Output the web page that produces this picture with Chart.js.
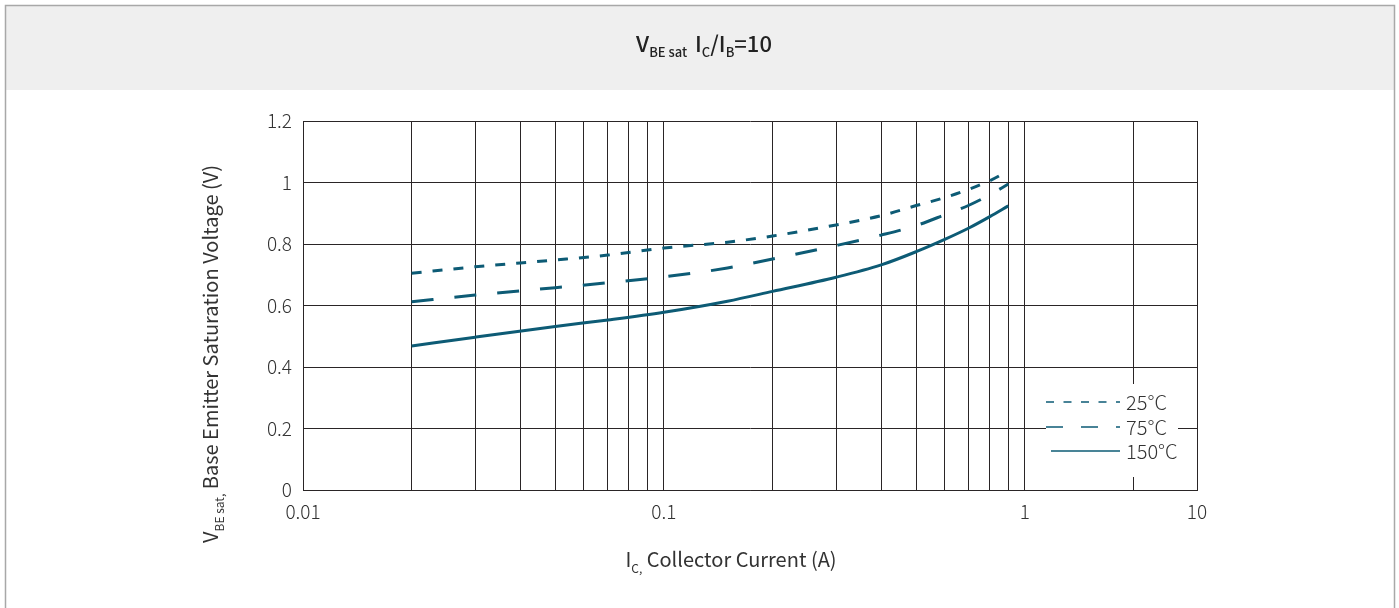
<!DOCTYPE html>
<html>
<head>
<meta charset="utf-8">
<script src="https://cdn.jsdelivr.net/npm/chart.js@4.4.1/dist/chart.umd.min.js"></script>
<style>
  html, body { margin: 0; padding: 0; background: #fff; }
  #wrap { position: absolute; left: 0; top: 0; width: 1399px; height: 608px; }
</style>
</head>
<body>
<div id="wrap"><canvas id="chart" width="1399" height="608"></canvas></div>
<script>
// Corrente de coletor (A) onde as curvas foram lidas
const currents = [0.02, 0.03, 0.05, 0.07, 0.1, 0.15, 0.2, 0.3, 0.4, 0.5, 0.6, 0.7, 0.8, 0.9];
// VBE sat (V) por temperatura
const vbe25 = [0.705, 0.726, 0.748, 0.764, 0.787, 0.806, 0.826, 0.862, 0.892, 0.925, 0.951, 0.978, 1.006, 1.038];
const vbe75 = [0.612, 0.634, 0.658, 0.674, 0.693, 0.722, 0.751, 0.795, 0.829, 0.860, 0.895, 0.926, 0.960, 0.995];
const vbe150 = [0.468, 0.497, 0.532, 0.553, 0.578, 0.614, 0.646, 0.692, 0.732, 0.775, 0.815, 0.852, 0.889, 0.924];
const seriesNames = ['25°C', '75°C', '150°C'];

// Grelha vertical e etiquetas do eixo X (o eixo original acaba em "10")
const xGridTicks = [0.01, 0.02, 0.03, 0.04, 0.05, 0.06, 0.07, 0.08, 0.09,
                    0.1, 0.2, 0.3, 0.4, 0.5, 0.6, 0.7, 0.8, 0.9, 1, 2, 3];
const xLabelTicks = [0.01, 0.1, 1, 3];
const xLabelText = ['0.01', '0.1', '1', '10'];
const yTickLabels = ['0', '0.2', '0.4', '0.6', '0.8', '1', '1.2'];

const FONT = "'Noto Sans CJK SC', 'Noto Sans', sans-serif";
const LINE = '#0d5b75';
const GRID = '#2a2526';
const TEXT = '#333333';

// Texto com índices (subscritos)
function drawRich(ctx, parts, x, y, align, size, weight, subSize, subShift) {
    const widths = parts.map(p => {
        ctx.font = `${weight} ${p.sub ? subSize : size}px ${FONT}`;
        return ctx.measureText(p.t).width;
    });
    const total = widths.reduce((a, b) => a + b, 0);
    let cx = align === 'center' ? x - total / 2 : x;
    ctx.textAlign = 'left';
    ctx.textBaseline = 'alphabetic';
    parts.forEach((p, i) => {
        ctx.font = `${weight} ${p.sub ? subSize : size}px ${FONT}`;
        ctx.fillText(p.t, cx, p.sub ? y + subShift : y);
        cx += widths[i];
    });
}

const framePlugin = {
    id: 'frame',
    beforeDraw(chart) {
        const ctx = chart.ctx;
        ctx.save();
        ctx.fillStyle = '#ffffff';
        ctx.fillRect(0, 0, chart.width, chart.height);
        ctx.fillStyle = '#efefef';
        ctx.fillRect(6, 6, 1388, 84);
        ctx.strokeStyle = '#a8a8a8';
        ctx.lineWidth = 1.5;
        ctx.beginPath();
        ctx.moveTo(5.5, 610); ctx.lineTo(5.5, 5.5); ctx.lineTo(1394.5, 5.5); ctx.lineTo(1394.5, 610);
        ctx.stroke();
        ctx.restore();
    },
    afterDraw(chart) {
        const ctx = chart.ctx;
        ctx.save();
        ctx.fillStyle = '#222';
        // titulo
        drawRich(ctx, [{t: 'V'}, {t: 'BE sat ', sub: true}, {t: ' I'}, {t: 'C', sub: true},
                       {t: '/I'}, {t: 'B', sub: true}, {t: '=10'}],
                 704, 52, 'center', 22, 500, 13, 5);
        ctx.fillStyle = TEXT;
        // titulo eixo X
        drawRich(ctx, [{t: 'I'}, {t: 'C,', sub: true}, {t: ' Collector Current (A)'}],
                 731, 567, 'center', 20, 400, 12, 6);
        // titulo eixo Y (rodado)
        ctx.save();
        ctx.translate(218, 354);
        ctx.rotate(-Math.PI / 2);
        drawRich(ctx, [{t: 'V'}, {t: 'BE sat,', sub: true}, {t: ' Base Emitter Saturation Voltage (V)'}],
                 0, 0, 'center', 20, 400, 12, 6);
        ctx.restore();

        // legenda
        ctx.fillStyle = '#ffffff';
        ctx.fillRect(1046, 384, 132, 93);
        const rows = [402, 427, 451];
        const dashes = [[8, 9.5], [17, 18], []];
        const starts = [1046, 1046, 1051];
        rows.forEach((ry, i) => {
            ctx.strokeStyle = LINE;
            ctx.lineWidth = 1.5;
            ctx.setLineDash(dashes[i]);
            ctx.beginPath();
            ctx.moveTo(starts[i], ry);
            ctx.lineTo(1120, ry);
            ctx.stroke();
            ctx.setLineDash([]);
            ctx.fillStyle = TEXT;
            ctx.font = `300 20px ${FONT}`;
            ctx.textAlign = 'left';
            ctx.textBaseline = 'middle';
            ctx.fillText(seriesNames[i], 1126, ry);
        });
        ctx.restore();
    }
};

function toPoints(ys) {
    return currents.map((x, i) => ({x: x, y: ys[i]}));
}

const common = {
    borderColor: LINE,
    backgroundColor: LINE,
    borderWidth: 3,
    pointRadius: 0,
    fill: false,
    cubicInterpolationMode: 'monotone',
    borderCapStyle: 'butt'
};

new Chart(document.getElementById('chart').getContext('2d'), {
    type: 'line',
    data: {
        datasets: [
            Object.assign({label: seriesNames[0], data: toPoints(vbe25), borderDash: [10, 11]}, common),
            Object.assign({label: seriesNames[1], data: toPoints(vbe75), borderDash: [22, 21]}, common),
            Object.assign({label: seriesNames[2], data: toPoints(vbe150)}, common)
        ]
    },
    options: {
        responsive: false,
        animation: false,
        layout: { padding: { left: 223, top: 121, right: 202, bottom: 78 } },
        plugins: {
            legend: { display: false },
            tooltip: { enabled: false }
        },
        scales: {
            x: {
                type: 'logarithmic',
                min: 0.01,
                max: 3,
                afterBuildTicks: axis => { axis.ticks = xGridTicks.map(v => ({value: v})); },
                afterFit: axis => { axis.height = 40; },
                grid: { color: GRID, lineWidth: 1, drawTicks: false },
                border: { color: GRID, width: 1 },
                ticks: {
                    autoSkip: false,
                    maxRotation: 0,
                    padding: 10,
                    color: TEXT,
                    font: { family: FONT, size: 19, weight: 300 },
                    callback: function(value) {
                        const k = xLabelTicks.findIndex(t => Math.abs(t - value) < 1e-9);
                        return k >= 0 ? xLabelText[k] : '';
                    }
                }
            },
            y: {
                min: 0,
                max: 1.2,
                afterFit: axis => { axis.width = 80; },
                grid: { color: GRID, lineWidth: 1, drawTicks: false },
                border: { color: GRID, width: 1 },
                ticks: {
                    stepSize: 0.2,
                    padding: 11,
                    color: TEXT,
                    font: { family: FONT, size: 19, weight: 300 },
                    callback: function(value, index) { return yTickLabels[index]; }
                }
            }
        }
    },
    plugins: [framePlugin]
});
</script>
</body>
</html>
